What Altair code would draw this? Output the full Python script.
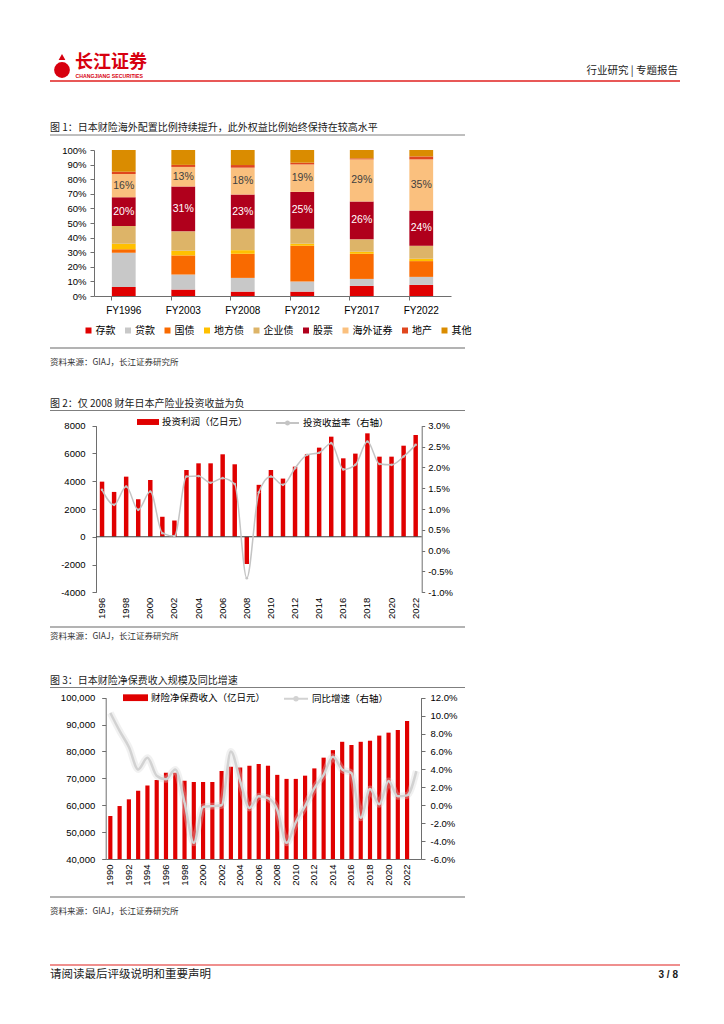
import altair as alt
import pandas as pd

W, H = 708, 1008
NUMF = "Liberation Sans, Noto Sans CJK SC"
CJK = "Noto Sans CJK SC, Liberation Sans"
AX = "#6E6E6E"
RED = "#E00000"
BRAND = "#D7000F"

# ---------------- Figure 1 data (percent of assets) ----------------
fy_cats = ["FY1996", "FY2003", "FY2008", "FY2012", "FY2017", "FY2022"]
asset_names = ["存款", "贷款", "国债", "地方债", "企业债", "股票", "海外证券", "地产", "其他"]
asset_colors = ["#E00000", "#C8C8C8", "#F96A00", "#FFC000", "#DDB468",
                "#B0001C", "#FAC07E", "#E0461E", "#DA8C00"]
deposits = [6.2, 4.4, 3.0, 3.0, 6.9, 7.6]
loans = [23.4, 10.3, 9.4, 6.9, 4.8, 5.5]
jgb = [2.5, 13.1, 16.5, 24.5, 17.2, 10.8]
local_bonds = [3.7, 3.2, 2.5, 1.4, 1.4, 1.6]
corp_bonds = [12.1, 13.3, 14.7, 10.3, 8.5, 8.9]
stocks = [19.8, 30.7, 23.4, 25.2, 25.9, 24.1]
overseas = [15.8, 13.4, 18.4, 18.8, 28.9, 35.1]
real_estate = [1.6, 1.4, 1.8, 1.2, 0.7, 2.0]
others = [14.9, 10.2, 10.3, 8.7, 5.7, 4.4]
pct_ticks = [0, 0.1, 0.2, 0.3, 0.4, 0.5, 0.6, 0.7, 0.8, 0.9, 1.0]

# ---------------- Figure 2 data ----------------
years2 = [str(y) for y in range(1996, 2023)]
profit = [3970, 3230, 4330, 2710, 4090, 1440, 1170, 4810, 5290, 5290, 5940, 5220,
          -1960, 3740, 4810, 4190, 5050, 5940, 6420, 7210, 5650, 5990, 7450, 5770,
          5770, 6560, 7330]
yield_pct = [1.46, 1.10, 1.54, 0.98, 1.42, 0.42, 0.35, 1.78, 1.79, 1.63, 1.74, 1.60,
             -0.66, 1.40, 1.78, 1.58, 1.98, 2.30, 2.35, 2.58, 1.95, 2.06, 2.62, 2.08,
             2.06, 2.26, 2.54]
left2_ticks = [-4000, -2000, 0, 2000, 4000, 6000, 8000]
right2_ticks = [-0.01, -0.005, 0, 0.005, 0.01, 0.015, 0.02, 0.025, 0.03]
name2a = "投资利润（亿日元）"
name2b = "投资收益率（右轴）"

# ---------------- Figure 3 data ----------------
years3 = [str(y) for y in range(1990, 2024)]
premium = [56000, 59700, 62200, 65400, 67300, 69400, 72100, 72100, 69100, 68600,
           68600, 68600, 72700, 74300, 74000, 74700, 75300, 74700, 71300, 69800,
           69800, 71000, 73700, 77700, 80500, 83600, 82400, 83600, 84000, 85900,
           87000, 88000, 91300]
growth = [10.3, 8.3, 6.5, 4.0, 5.3, 3.3, 2.9, 4.0, 0.3, -4.2, -0.2, -0.1, 0.0, 6.0,
          2.7, -0.3, 1.0, 0.8, -0.5, -4.2, -1.9, -0.1, 1.9, 3.4, 5.4, 4.0, 3.6, -1.4,
          1.8, 0.1, 2.7, 1.0, 1.1, 3.8]
left3_ticks = [40000, 50000, 60000, 70000, 80000, 90000, 100000]
right3_ticks = [-0.06, -0.04, -0.02, 0, 0.02, 0.04, 0.06, 0.08, 0.10, 0.12]
name3a = "财险净保费收入（亿日元）"
name3b = "同比增速（右轴）"

# ---------------- tables ----------------
series1 = [deposits, loans, jgb, local_bonds, corp_bonds, stocks, overseas, real_estate, others]
rows, lab_rows = [], []
for i, c in enumerate(fy_cats):
    cum = 0.0
    for k, a in enumerate(asset_names):
        v = series1[k][i]
        rows.append({"cat": c, "asset": a, "k": k, "v": v / 100})
        if a in ("股票", "海外证券"):
            lab_rows.append({"cat": c, "asset": a, "mid": (cum + v / 2) / 100,
                             "label": f"{round(v)}%"})
        cum += v
df1 = pd.DataFrame(rows)
dfl = pd.DataFrame(lab_rows)

df2 = pd.DataFrame({"year": years2, "profit": profit,
                    "ret": [v / 100 for v in yield_pct], "s1": name2a, "s2": name2b})
df3b = pd.DataFrame({"year": years3[:len(premium)], "premium": premium, "s1": name3a})
df3l = pd.DataFrame({"year": years3, "growth": [g / 100 for g in growth], "s2": name3b})
one = pd.DataFrame({"d": [0]})

MINUS_FIX = "replace(datum.label, '\u2212', '-')"
BAR_SYM = "M-1,-0.27H1V0.27H-1Z"
LINE_SYM = "M-1,0H1M-0.14,0A0.14,0.14,0,1,0,0.14,0A0.14,0.14,0,1,0,-0.14,0"


def axis(**kw):
    base = dict(title=None, grid=False, domainColor=AX, tickColor=AX, labelColor="#000000",
                labelFont=NUMF, labelFontSize=9.5, tickSize=4, labelOverlap=False)
    base.update(kw)
    return alt.Axis(**base)


def legend(x, y, sym, size, **kw):
    base = dict(orient="none", legendX=x, legendY=y, direction="horizontal", title=None,
                symbolType=sym, symbolSize=size, labelFont=CJK, labelFontSize=9.5,
                labelColor="#000000", labelOffset=3, padding=0)
    base.update(kw)
    return alt.Legend(**base)


def deco_text(s, x, y, size, color="#1A1A1A", align="left", weight="normal", font=CJK):
    return alt.Chart(one).mark_text(text=s, align=align, baseline="middle", fontSize=size,
                                    color=color, font=font, fontWeight=weight).encode(
        x=alt.value(x), y=alt.value(y))


def deco_rule(x1, x2, y, color, width):
    return alt.Chart(one).mark_rule(color=color, strokeWidth=width).encode(
        x=alt.value(x1), x2=alt.value(x2), y=alt.value(y))


# ---------------- Figure 1 ----------------
x1s = alt.Scale(domain=fy_cats, range=[86, 443], paddingInner=0.6, paddingOuter=0.3)
y1s = alt.Scale(domain=[0, 1], range=[288, 142], nice=False)
ax1x = axis(orient="bottom", offset=288 - H, labelAngle=0, bandPosition=0,
            labelPadding=5, labelFontSize=10)
ax1y = axis(orient="left", offset=-86, format=".0%", values=pct_ticks, labelPadding=4)
bars1 = alt.Chart(df1).mark_bar().encode(
    x=alt.X("cat:N", scale=x1s, axis=ax1x),
    y=alt.Y("v:Q", stack="zero", scale=y1s, axis=ax1y),
    color=alt.Color("asset:N", scale=alt.Scale(domain=asset_names, range=asset_colors),
                    legend=legend(75.5, 317.5, "square", 36, labelFontSize=10,
                                  labelOffset=2, columnPadding=7.5, symbolStrokeWidth=0)),
    order=alt.Order("k:Q", sort="ascending"),
)
text1 = alt.Chart(dfl).mark_text(font=NUMF, fontSize=10.5).encode(
    x=alt.X("cat:N", scale=x1s, axis=ax1x),
    y=alt.Y("mid:Q", scale=y1s, axis=ax1y),
    text="label:N",
    color=alt.condition(alt.datum.asset == "股票", alt.value("#FFFFFF"), alt.value("#404040")),
)
chart1 = alt.layer(bars1, text1)

# ---------------- Figure 2 ----------------
x2 = alt.X("year:N",
           scale=alt.Scale(domain=years2, range=[88, 413.7], paddingInner=0.63,
                           paddingOuter=0.315),
           axis=axis(orient="bottom", offset=584.3 - H, labelAngle=270, values=years2[::2],
                     domain=False, ticks=False, labelPadding=5))
y2l = alt.Scale(domain=[-4000, 8000], range=[584.3, 417.7], nice=False)
ax2l = axis(orient="left", offset=-88, values=left2_ticks, format="d",
            labelExpr=MINUS_FIX, labelPadding=7)
bars2 = alt.Chart(df2).mark_bar().encode(
    x=x2,
    y=alt.Y("profit:Q", scale=y2l, axis=ax2l),
    color=alt.Color("s1:N", scale=alt.Scale(domain=[name2a], range=[RED]),
                    legend=legend(129, 403, BAR_SYM, 484, symbolStrokeWidth=0)),
)
zero2 = alt.Chart(one).mark_rule(color="#404040", strokeWidth=1).encode(
    y=alt.YDatum(0, scale=y2l, axis=ax2l), x=alt.value(88), x2=alt.value(413.7))
line2 = alt.Chart(df2).mark_line(
    interpolate="monotone", strokeWidth=1.5,
    point=alt.OverlayMarkDef(filled=True, size=7)).encode(
    x=x2,
    y=alt.Y("ret:Q", scale=alt.Scale(domain=[-0.01, 0.03], range=[584.3, 417.7],
                                     nice=False, zero=False),
            axis=axis(orient="right", offset=413.7 - W, values=right2_ticks, format=".1%",
                      labelExpr=MINUS_FIX, tickSize=3, labelPadding=3)),
    color=alt.Color("s2:N", scale=alt.Scale(domain=[name2b], range=["#C4C4C4"]),
                    legend=legend(267, 402.5, LINE_SYM, 529, symbolStrokeWidth=2)),
)
chart2 = alt.layer(alt.layer(bars2, zero2), line2).resolve_scale(
    y="independent", color="independent")

# ---------------- Figure 3 ----------------
x3 = alt.X("year:N",
           scale=alt.Scale(domain=years3, range=[97.7, 413], paddingInner=0.55,
                           paddingOuter=0.275),
           axis=axis(orient="bottom", offset=851 - H, labelAngle=270,
                     values=years3[:len(premium):2], ticks=False, labelPadding=5))
bars3 = alt.Chart(df3b).mark_bar().encode(
    x=x3,
    y=alt.Y("premium:Q", scale=alt.Scale(domain=[40000, 100000], range=[851, 689.7],
                                         nice=False, zero=False, clamp=True),
            axis=axis(orient="left", offset=-97.7, values=left3_ticks, format=",d",
                      labelPadding=7)),
    y2=alt.datum(40000),
    color=alt.Color("s1:N", scale=alt.Scale(domain=[name3a], range=[RED]),
                    legend=legend(115, 677.2, BAR_SYM, 625, symbolStrokeWidth=0)),
)
y3r = alt.Scale(domain=[-0.06, 0.12], range=[851, 689.7], nice=False, zero=False)
ax3r = axis(orient="right", offset=413 - W, values=right3_ticks, format=".1%",
            labelExpr=MINUS_FIX, labelPadding=5)
glow3 = alt.Chart(df3l).mark_line(interpolate="monotone", strokeWidth=7, opacity=0.35,
                                  color="#D6D6D6").encode(
    x=x3, y=alt.Y("growth:Q", scale=y3r, axis=ax3r))
line3 = alt.Chart(df3l).mark_line(interpolate="monotone", strokeWidth=2.5).encode(
    x=x3,
    y=alt.Y("growth:Q", scale=y3r, axis=ax3r),
    color=alt.Color("s2:N", scale=alt.Scale(domain=[name3b], range=["#D2D2D2"]),
                    legend=legend(275, 677.7, LINE_SYM, 576, symbolStrokeWidth=2)),
)
chart3 = alt.layer(bars3, alt.layer(glow3, line3)).resolve_scale(
    y="independent", color="independent")

# ---------------- page decorations ----------------
decos = [
    alt.Chart(one).mark_point(shape="circle", filled=True, size=250, color=BRAND, opacity=1)
    .encode(x=alt.value(54), y=alt.value(62)),
    alt.Chart(one).mark_point(shape="triangle-up", filled=True, size=45, color=BRAND, opacity=1)
    .encode(x=alt.value(54), y=alt.value(49)),
    deco_text("长江证券", 67, 55, 18, color=BRAND, weight="bold"),
    deco_text("CHANGJIANG SECURITIES", 67.5, 68, 5.2, color=BRAND, weight="bold", font=NUMF),
    deco_text("行业研究 | 专题报告", 670, 63, 10.5, align="right"),
    deco_rule(42, 672, 73, "#E0201F", 1.5),
    # figure 1
    deco_text("图 1：日本财险海外配置比例持续提升，此外权益比例始终保持在较高水平", 42, 120, 10),
    deco_rule(42, 457, 127, "#7F7F7F", 1),
    deco_rule(42, 457, 340, "#9A9A9A", 1.5),
    deco_text("资料来源：GIAJ，长江证券研究所", 42, 354, 8.5, color="#333333"),
    # figure 2
    deco_text("图 2：仅 2008 财年日本产险业投资收益为负", 42, 396, 10),
    deco_rule(42, 457, 402.5, "#7F7F7F", 1),
    deco_rule(42, 457, 619, "#9A9A9A", 1.5),
    deco_text("资料来源：GIAJ，长江证券研究所", 42, 628, 8.5, color="#333333"),
    # figure 3
    deco_text("图 3：日本财险净保费收入规模及同比增速", 42, 673, 10),
    deco_rule(42, 457, 679.5, "#7F7F7F", 1),
    deco_rule(42, 457, 889, "#9A9A9A", 1.5),
    deco_text("资料来源：GIAJ，长江证券研究所", 42, 903, 8.5, color="#333333"),
    # footer
    deco_rule(42, 672, 957, "#E0201F", 1.2),
    deco_text("请阅读最后评级说明和重要声明", 42, 967, 11.5),
    deco_text("3 / 8", 670, 967, 10, align="right", weight="bold", font=NUMF),
]

chart = alt.layer(*decos, chart1, chart2, chart3).resolve_scale(
    x="independent", y="independent", color="independent"
).properties(
    width=W, height=H, padding=0, autosize=alt.AutoSizeParams(type="none")
).configure_view(stroke="transparent")

chart.save("out.html", embed_options={"renderer": "svg", "actions": False})
